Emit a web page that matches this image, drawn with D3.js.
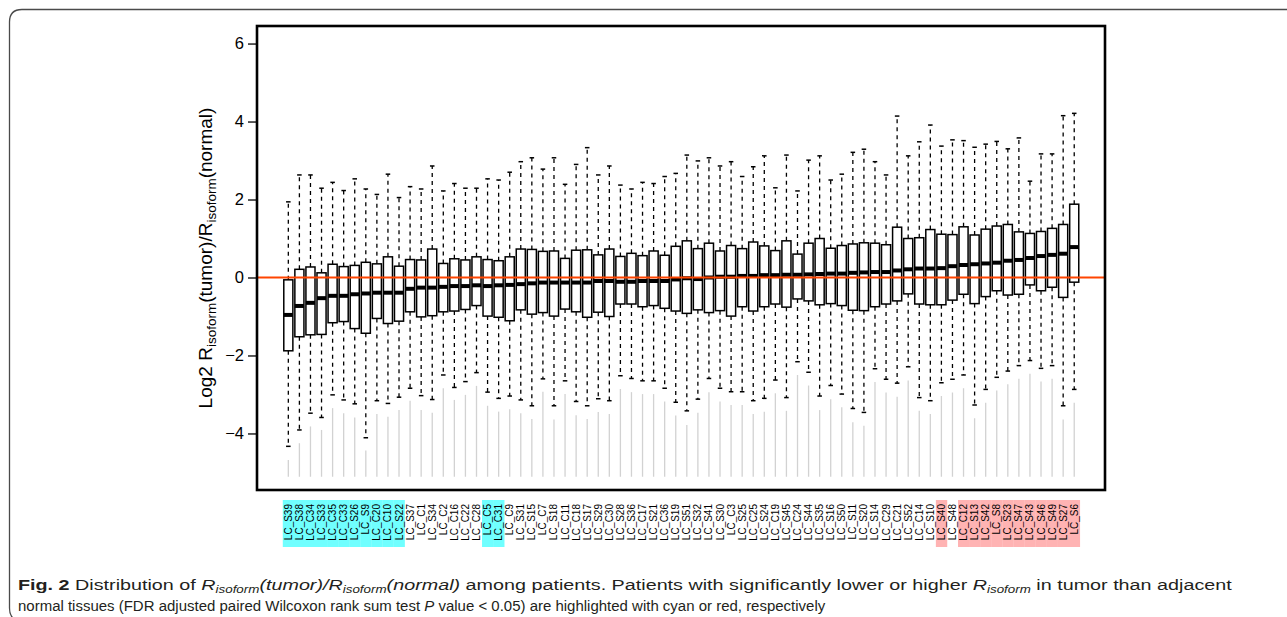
<!DOCTYPE html>
<html>
<head>
    <title>isoform-boxplot</title>
    <meta charset="utf-8">
    <style type="text/css">
        body { margin: 0; background: #fff; }
        .axis path { display: none; }
        .axis line { stroke: #000; stroke-width: 1.3; }
        .axis text { font-family: "Liberation Sans", Arial, sans-serif; font-size: 16.5px; fill: #000; }
        .pid { font-family: "Liberation Sans", Arial, sans-serif; font-size: 10px; fill: #000; }
        .caption { font-family: "Liberation Sans", Arial, sans-serif; font-size: 15.5px; fill: #231f20; }
    </style>
</head>
<body>

<script type="text/javascript" src="https://cdn.jsdelivr.net/npm/d3@7"></script>
<script type="text/javascript">
    /*=========DATA=========*/
    var patients = ['LC_S39', 'LC_S38', 'LC_C34', 'LC_S33', 'LC_C35', 'LC_C33', 'LC_S26', 'LC_S9', 'LC_C20', 'LC_C10',
        'LC_S22', 'LC_S37', 'LC_C1', 'LC_S34', 'LC_C2', 'LC_C16', 'LC_C22', 'LC_C28', 'LC_C5', 'LC_C31',
        'LC_C9', 'LC_S31', 'LC_S15', 'LC_C7', 'LC_S18', 'LC_C11', 'LC_C18', 'LC_S17', 'LC_S29', 'LC_C30',
        'LC_S28', 'LC_S36', 'LC_C17', 'LC_S21', 'LC_C36', 'LC_S19', 'LC_S51', 'LC_S32', 'LC_S41', 'LC_S30',
        'LC_C3', 'LC_S25', 'LC_C25', 'LC_S24', 'LC_C19', 'LC_S45', 'LC_C24', 'LC_S44', 'LC_S35', 'LC_S16',
        'LC_S50', 'LC_S11', 'LC_S20', 'LC_S14', 'LC_C29', 'LC_C21', 'LC_S52', 'LC_C14', 'LC_S10', 'LC_S40',
        'LC_S48', 'LC_C12', 'LC_S13', 'LC_S42', 'LC_S8', 'LC_S23', 'LC_S47', 'LC_S43', 'LC_S46', 'LC_S49',
        'LC_S27', 'LC_S6'];

    // upper whisker end
    var whiskerHigh = [1.94, 2.63, 2.63, 2.29, 2.44, 2.23, 2.53, 2.27, 2.13, 2.65,
        2.05, 2.33, 2.27, 2.86, 2.22, 2.41, 2.29, 2.29, 2.53, 2.50,
        2.70, 2.97, 3.07, 2.78, 3.07, 2.39, 2.90, 3.33, 2.63, 2.86,
        2.37, 2.27, 2.44, 2.41, 2.59, 2.67, 3.14, 2.99, 3.07, 2.86,
        2.97, 2.59, 2.84, 3.12, 2.30, 3.14, 2.22, 3.01, 3.12, 2.50,
        2.65, 3.21, 3.29, 2.97, 2.63, 4.14, 3.12, 3.48, 3.91, 3.37,
        3.53, 3.51, 3.34, 3.42, 3.49, 3.30, 3.58, 2.47, 3.17, 3.17,
        4.15, 4.21];
    var upperQuartile = [-0.06, 0.21, 0.27, 0.12, 0.34, 0.28, 0.31, 0.39, 0.35, 0.53,
        0.29, 0.46, 0.45, 0.73, 0.36, 0.48, 0.45, 0.53, 0.46, 0.43,
        0.53, 0.73, 0.72, 0.67, 0.68, 0.49, 0.70, 0.71, 0.58, 0.73,
        0.54, 0.62, 0.56, 0.68, 0.57, 0.80, 0.94, 0.74, 0.88, 0.68,
        0.82, 0.74, 0.91, 0.81, 0.69, 0.94, 0.60, 0.88, 1.00, 0.75,
        0.82, 0.86, 0.89, 0.88, 0.84, 1.29, 1.00, 1.02, 1.23, 1.11,
        1.10, 1.30, 1.09, 1.24, 1.32, 1.36, 1.17, 1.13, 1.18, 1.26,
        1.36, 1.88];
    var medians = [-0.96, -0.73, -0.65, -0.53, -0.47, -0.47, -0.43, -0.41, -0.39, -0.39,
        -0.39, -0.29, -0.26, -0.26, -0.24, -0.22, -0.22, -0.20, -0.22, -0.20,
        -0.19, -0.17, -0.15, -0.13, -0.13, -0.13, -0.13, -0.13, -0.09, -0.09,
        -0.11, -0.11, -0.09, -0.09, -0.09, -0.05, -0.02, -0.04, 0.00, 0.02,
        0.02, 0.04, 0.04, 0.06, 0.06, 0.07, 0.07, 0.08, 0.09, 0.10,
        0.10, 0.12, 0.13, 0.14, 0.14, 0.18, 0.21, 0.23, 0.23, 0.24,
        0.29, 0.32, 0.34, 0.36, 0.38, 0.43, 0.45, 0.50, 0.55, 0.58,
        0.61, 0.78];
    var lowerQuartile = [-1.88, -1.52, -1.47, -1.46, -1.16, -1.13, -1.31, -1.43, -1.05, -1.18,
        -1.12, -0.88, -1.01, -0.98, -0.88, -0.86, -0.82, -0.72, -0.99, -1.02,
        -1.11, -0.83, -0.94, -0.90, -0.99, -0.81, -0.88, -1.02, -0.89, -1.00,
        -0.68, -0.68, -0.75, -0.72, -0.79, -0.86, -0.92, -0.83, -0.90, -0.85,
        -0.99, -0.75, -0.86, -0.75, -0.68, -0.76, -0.55, -0.60, -0.70, -0.67,
        -0.72, -0.84, -0.85, -0.75, -0.68, -0.60, -0.42, -0.68, -0.70, -0.70,
        -0.58, -0.43, -0.67, -0.49, -0.34, -0.45, -0.43, -0.19, -0.34, -0.25,
        -0.51, -0.12];
    var whiskerLow = [-4.33, -3.91, -3.48, -3.59, -3.01, -3.14, -3.24, -4.11, -3.16, -3.23,
        -3.07, -2.84, -3.03, -3.13, -2.50, -2.82, -2.67, -2.44, -2.94, -3.10,
        -3.04, -3.14, -3.29, -2.60, -3.29, -2.65, -3.18, -3.29, -3.11, -3.16,
        -2.52, -2.59, -2.65, -2.65, -2.84, -3.20, -3.42, -3.12, -2.59, -2.84,
        -2.93, -2.93, -3.16, -3.10, -2.63, -3.08, -2.16, -2.43, -3.04, -2.77,
        -2.99, -3.36, -3.46, -2.34, -2.61, -2.71, -2.29, -3.08, -3.16, -2.70,
        -2.61, -2.50, -3.27, -2.87, -2.56, -2.40, -2.26, -2.13, -2.33, -2.26,
        -3.29, -2.87];
    // highest low outlier (outliers are so dense they read as a grey line)
    var outlierTop = [-4.68, -4.25, -3.82, -3.91, -3.35, -3.48, -3.59, -4.44, -3.50, -3.57,
        -3.40, -3.16, -3.40, -3.47, -2.84, -3.14, -3.01, -2.78, -3.29, -3.44,
        -3.38, -3.48, -3.63, -2.93, -3.64, -2.99, -3.53, -3.63, -3.45, -3.50,
        -2.86, -2.94, -2.99, -2.99, -3.18, -3.54, -3.78, -3.47, -2.94, -3.18,
        -3.27, -3.27, -3.50, -3.44, -2.97, -3.42, -2.50, -2.77, -3.40, -3.12,
        -3.33, -3.71, -3.80, -2.68, -2.95, -3.06, -2.64, -3.42, -3.50, -3.04,
        -2.95, -2.84, -3.61, -3.21, -2.90, -2.74, -2.60, -2.47, -2.67, -2.60,
        -3.64, -3.21];
    var outlierBottom = -5.11;

    var lowerGroup = ['LC_S39', 'LC_S38', 'LC_C34', 'LC_S33', 'LC_C35', 'LC_C33', 'LC_S26', 'LC_S9', 'LC_C20', 'LC_C10',
        'LC_S22', 'LC_C5', 'LC_C31'];
    var higherGroup = ['LC_S40', 'LC_C12', 'LC_S13', 'LC_S42', 'LC_S8', 'LC_S23', 'LC_S47', 'LC_S43', 'LC_S46', 'LC_S49',
        'LC_S27', 'LC_S6'];
    var yTicks = [-4, -2, 0, 2, 4, 6];

    var rows = patients.map(function (p, i) {
        return {
            name: p, pos: i + 1,
            hi: whiskerHigh[i], q3: upperQuartile[i], med: medians[i], q1: lowerQuartile[i],
            lo: whiskerLow[i], out: outlierTop[i]
        };
    });

    /*=====SIZE SVG======*/
    var svgWidth = 1287;
    var svgHeight = 617;
    var frame = { left: 257, right: 1105, top: 26, bottom: 490 };

    var xScale = d3.scaleLinear().domain([-1.83, 74.78]).range([frame.left, frame.right]);
    var yScale = d3.scaleLinear().domain([-5.45, 6.45]).range([frame.bottom, frame.top]);
    var step = xScale(2) - xScale(1);
    var boxW = step * 0.82;
    var stapleW = boxW * 0.5;

    var svg = d3.select("body").append("svg").attr("width", svgWidth).attr("height", svgHeight);

    // panel border (bottom edge falls just outside the picture)
    svg.append("path")
        .attr("d", "M1295,9.5 H22 Q9.5,9.5 9.5,22 V608 Q9.5,621 22,621 H1295")
        .attr("fill", "none").attr("stroke", "#4a4a4a").attr("stroke-width", 1.3);

    // highlighted patient labels
    var labelG = svg.append("g");
    labelG.selectAll("rect")
        .data(rows.filter(function (d) { return lowerGroup.indexOf(d.name) >= 0 || higherGroup.indexOf(d.name) >= 0; }))
        .enter().append("rect")
        .attr("x", function (d) { return xScale(d.pos) - step / 2; })
        .attr("y", 500)
        .attr("width", step + 0.3)
        .attr("height", 47)
        .attr("fill", function (d) { return lowerGroup.indexOf(d.name) >= 0 ? "#70ffff" : "#ffb3b3"; });

    labelG.selectAll("text")
        .data(rows).enter().append("text")
        .attr("class", "pid")
        .attr("transform", function (d) { return "translate(" + xScale(d.pos) + ",504) rotate(-90)"; })
        .attr("text-anchor", "end")
        .attr("dy", "0.35em")
        .text(function (d) { return d.name; });

    var plot = svg.append("g");

    // low outliers
    plot.selectAll(".out").data(rows).enter().append("line")
        .attr("class", "out")
        .attr("x1", function (d) { return xScale(d.pos); })
        .attr("x2", function (d) { return xScale(d.pos); })
        .attr("y1", function (d) { return yScale(d.out); })
        .attr("y2", yScale(outlierBottom))
        .attr("stroke", "#d2d2d2").attr("stroke-width", 1.3);

    // whiskers
    plot.selectAll(".wh").data(rows).enter().append("line")
        .attr("class", "wh")
        .attr("x1", function (d) { return xScale(d.pos); })
        .attr("x2", function (d) { return xScale(d.pos); })
        .attr("y1", function (d) { return yScale(d.q3); })
        .attr("y2", function (d) { return yScale(d.hi); })
        .attr("stroke", "#000").attr("stroke-width", 1.3).attr("stroke-dasharray", "4,4");
    plot.selectAll(".wl").data(rows).enter().append("line")
        .attr("class", "wl")
        .attr("x1", function (d) { return xScale(d.pos); })
        .attr("x2", function (d) { return xScale(d.pos); })
        .attr("y1", function (d) { return yScale(d.q1); })
        .attr("y2", function (d) { return yScale(d.lo); })
        .attr("stroke", "#000").attr("stroke-width", 1.3).attr("stroke-dasharray", "4,4");

    // staples
    ['hi', 'lo'].forEach(function (k) {
        plot.selectAll(".st-" + k).data(rows).enter().append("line")
            .attr("class", "st-" + k)
            .attr("x1", function (d) { return xScale(d.pos) - stapleW / 2; })
            .attr("x2", function (d) { return xScale(d.pos) + stapleW / 2; })
            .attr("y1", function (d) { return yScale(d[k]); })
            .attr("y2", function (d) { return yScale(d[k]); })
            .attr("stroke", "#000").attr("stroke-width", 1.5);
    });

    // boxes
    plot.selectAll(".box").data(rows).enter().append("rect")
        .attr("class", "box")
        .attr("x", function (d) { return xScale(d.pos) - boxW / 2; })
        .attr("y", function (d) { return yScale(d.q3); })
        .attr("width", boxW)
        .attr("height", function (d) { return yScale(d.q1) - yScale(d.q3); })
        .attr("fill", "#fff").attr("stroke", "#000").attr("stroke-width", 1.5);

    plot.selectAll(".med").data(rows).enter().append("line")
        .attr("class", "med")
        .attr("x1", function (d) { return xScale(d.pos) - boxW / 2; })
        .attr("x2", function (d) { return xScale(d.pos) + boxW / 2; })
        .attr("y1", function (d) { return yScale(d.med); })
        .attr("y2", function (d) { return yScale(d.med); })
        .attr("stroke", "#000").attr("stroke-width", 4);

    // reference line at 0
    plot.append("line")
        .attr("x1", frame.left).attr("x2", frame.right)
        .attr("y1", yScale(0)).attr("y2", yScale(0))
        .attr("stroke", "#ff4500").attr("stroke-width", 2.2);

    // frame
    svg.append("rect")
        .attr("x", frame.left).attr("y", frame.top)
        .attr("width", frame.right - frame.left).attr("height", frame.bottom - frame.top)
        .attr("fill", "none").attr("stroke", "#000").attr("stroke-width", 2.6);

    // y axis
    var yAxis = d3.axisLeft(yScale).tickValues(yTicks).tickSize(9).tickPadding(4);
    svg.append("g").attr("class", "axis")
        .attr("transform", "translate(" + frame.left + ",0)")
        .call(yAxis);

    var yTitle = svg.append("text")
        .attr("transform", "translate(212,258) rotate(-90)")
        .attr("text-anchor", "middle")
        .style("font-family", "'Liberation Sans', Arial, sans-serif")
        .style("font-size", "19px");
    yTitle.append("tspan").text("Log2 R");
    yTitle.append("tspan").attr("dy", 4).style("font-size", "13.5px").text("isoform");
    yTitle.append("tspan").attr("dy", -4).text("(tumor)/R");
    yTitle.append("tspan").attr("dy", 4).style("font-size", "13.5px").text("isoform");
    yTitle.append("tspan").attr("dy", -4).text("(normal)");

    // caption: narrow face imitated by squeezing a regular one to the measured width
    function fitLine(g, width) {
        var t = g.select("text");
        var w = t.node().getComputedTextLength();
        t.attr("transform", "scale(" + (width / w) + ",1)");
    }
    var capG1 = svg.append("g").attr("transform", "translate(18,590)");
    var cap1 = capG1.append("text").attr("class", "caption");
    cap1.append("tspan").style("font-weight", "bold").text("Fig. 2");
    cap1.append("tspan").text(" Distribution of ");
    cap1.append("tspan").style("font-style", "italic").text("R");
    cap1.append("tspan").style("font-style", "italic").style("font-size", "10.5px").attr("dy", 3).text("isoform");
    cap1.append("tspan").style("font-style", "italic").attr("dy", -3).text("(tumor)/R");
    cap1.append("tspan").style("font-style", "italic").style("font-size", "10.5px").attr("dy", 3).text("isoform");
    cap1.append("tspan").style("font-style", "italic").attr("dy", -3).text("(normal)");
    cap1.append("tspan").text(" among patients. Patients with significantly lower or higher ");
    cap1.append("tspan").style("font-style", "italic").text("R");
    cap1.append("tspan").style("font-style", "italic").style("font-size", "10.5px").attr("dy", 3).text("isoform");
    cap1.append("tspan").attr("dy", -3).text(" in tumor than adjacent");
    fitLine(capG1, 1214);

    var capG2 = svg.append("g").attr("transform", "translate(18,611)");
    var cap2 = capG2.append("text").attr("class", "caption");
    cap2.append("tspan").text("normal tissues (FDR adjusted paired Wilcoxon rank sum test ");
    cap2.append("tspan").style("font-style", "italic").text("P");
    cap2.append("tspan").text(" value < 0.05) are highlighted with cyan or red, respectively");
    fitLine(capG2, 808);
</script>
</body>
</html>
